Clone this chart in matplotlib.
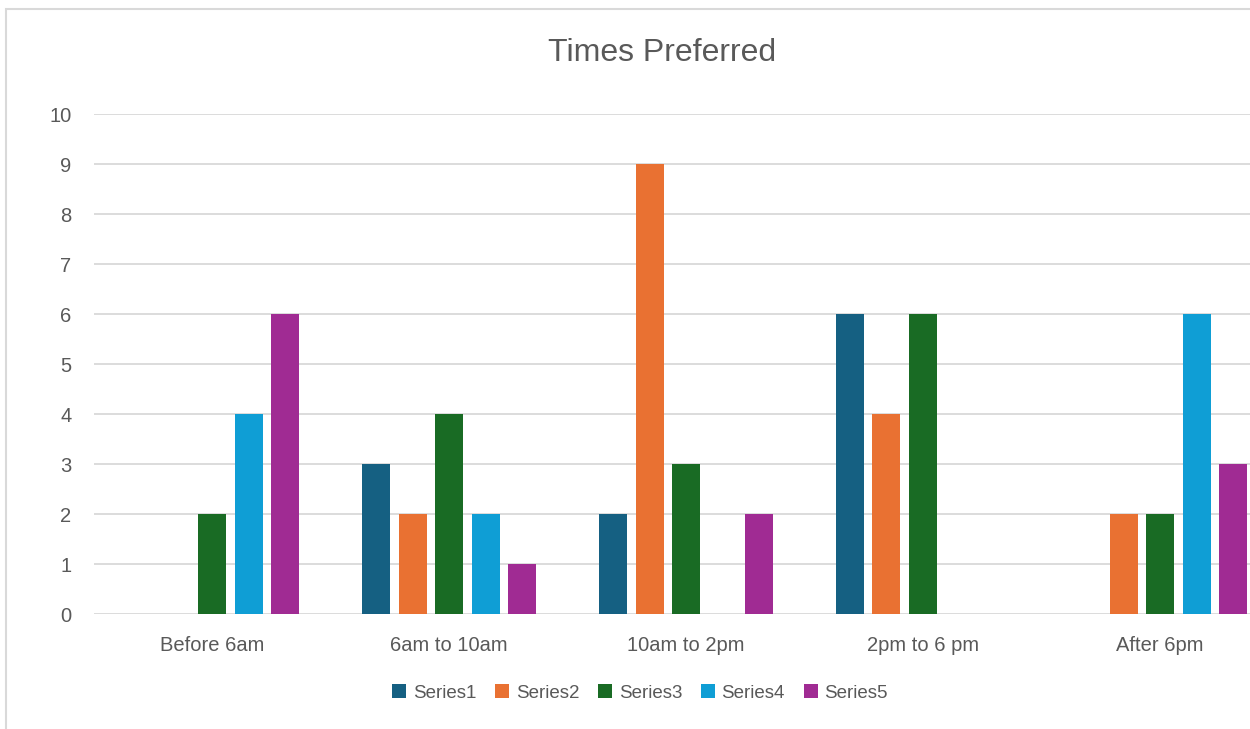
import numpy as np
import matplotlib.pyplot as plt
from matplotlib.patches import Rectangle

#------------------------------------------------------------------------------#

categories = ['Before 6am', '6am to 10am', '10am to 2pm', '2pm to 6 pm', 'After 6pm']
series_names = ['Series1', 'Series2', 'Series3', 'Series4', 'Series5']
series1 = [0, 3, 2, 6, 0]
series2 = [0, 2, 9, 4, 2]
series3 = [2, 4, 3, 6, 2]
series4 = [4, 2, 0, 0, 6]
series5 = [6, 1, 2, 0, 3]
colors = ['#156082', '#E97132', '#196B24', '#0F9ED5', '#A02B93']

#------------------------------------------------------------------------------#

plt.rcParams['font.family'] = ['Liberation Sans', 'DejaVu Sans']
txtc = '#595959'
gridc = '#d9d9d9'

W, H = 1250, 729
fig = plt.figure(figsize = (W / 100, H / 100), dpi = 100)

# chart area outline (runs off the right and bottom edges)
fig.patches.append(Rectangle((6 / W, -0.1), 1.2, 1 - 9 / H + 0.1,
    transform = fig.transFigure, fill = False, edgecolor = gridc, linewidth = 1.5))

ax = fig.add_axes([93.5 / W, 115 / H, 1185 / W, 500 / H])

xx = np.arange(len(categories))
step = 36.5 / 237
width = 28 / 237
for i, (name, vals) in enumerate(zip(series_names,
        [series1, series2, series3, series4, series5])):
    ax.bar(xx + (i - 2) * step, vals, width, color = colors[i], label = name,
        linewidth = 0, zorder = 3)

ax.set_xlim(-0.5, len(categories) - 0.5)
ax.set_ylim(0, 10)
ax.set_yticks(range(0, 11))
ax.set_xticks(xx)
ax.set_xticklabels(categories)
ax.yaxis.grid(True, color = gridc, linewidth = 1.3, zorder = 0)
ax.tick_params(length = 0, labelsize = 14.5, labelcolor = txtc)
ax.tick_params(axis = 'y', pad = 16)
ax.tick_params(axis = 'x', pad = 16)
for s in ax.spines.values():
    s.set_visible(False)

fig.text(662 / W, 1 - 53 / H, 'Times Preferred', ha = 'center', va = 'center',
    fontsize = 23, color = txtc)

fig.legend(loc = 'center', bbox_to_anchor = (640 / W, 1 - 693 / H), ncol = 5,
    frameon = False, fontsize = 13.5, labelcolor = txtc,
    handlelength = 0.75, handleheight = 0.75, handletextpad = 0.35,
    columnspacing = 1.0)

plt.savefig('out.png', dpi = 100)
